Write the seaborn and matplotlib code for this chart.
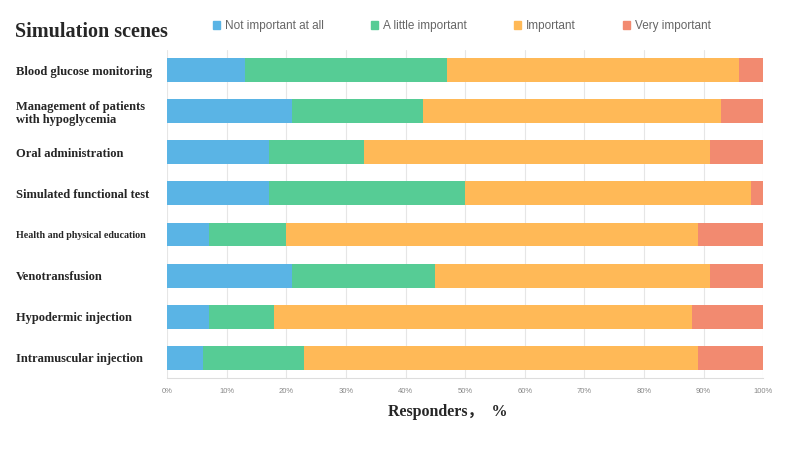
import numpy as np
import pandas as pd
import matplotlib
matplotlib.use("Agg")
import matplotlib.pyplot as plt
import matplotlib.patches as mpatches
import seaborn as sns

# Data (percent of responders)
scenes = ["Blood glucose monitoring",
          "Management of patients\nwith hypoglycemia",
          "Oral administration",
          "Simulated functional test",
          "Health and physical education",
          "Venotransfusion",
          "Hypodermic injection",
          "Intramuscular injection"]
levels = ["Not important at all", "A little important", "Important", "Very important"]
not_important = [13, 21, 17, 17, 7, 21, 7, 6]
little_important = [34, 22, 16, 33, 13, 24, 11, 17]
important = [49, 50, 58, 48, 69, 46, 70, 66]
very_important = [4, 7, 9, 2, 11, 9, 12, 11]
colors = ["#5ab4e5", "#56cc95", "#ffb957", "#f28a70"]

df = pd.DataFrame({"scene": scenes,
                   levels[0]: not_important,
                   levels[1]: little_important,
                   levels[2]: important,
                   levels[3]: very_important}).set_index("scene")
cum = df.cumsum(axis=1)

sns.set_style("white")
fig = plt.figure(figsize=(8, 4.5), dpi=100)
ax = fig.add_axes([0.209, 0.159, 0.745, 0.731])

# stacked bars: draw the longest cumulative first
for lev, col in reversed(list(zip(levels, colors))):
    sns.barplot(x=cum[lev].values, y=cum.index, orient="h", color=col,
                saturation=1, width=0.58, ax=ax, zorder=3, linewidth=0)

ax.set_xlim(0, 100)
ax.set_xticks(np.arange(0, 101, 10))
ax.set_xticklabels([f"{v}%" for v in range(0, 101, 10)],
                   fontsize=5.5, color="#888888", family="Liberation Sans")
ax.grid(axis="x", color="#e6e6e6", linewidth=0.8, zorder=0)
ax.set_axisbelow(True)
for s in ["top", "right", "left"]:
    ax.spines[s].set_visible(False)
ax.spines["bottom"].set_color("#dddddd")
ax.tick_params(axis="x", length=4, color="#dddddd", pad=3)

# y labels left aligned at the figure edge
ax.set_ylabel("")
ax.tick_params(axis="y", length=0, pad=109)
for lab in ax.get_yticklabels():
    lab.set_horizontalalignment("left")
    lab.set_family("Liberation Serif")
    lab.set_fontweight("bold")
    lab.set_fontsize(7.2 if lab.get_text().startswith("Health") else 9)

ax.set_xlabel("Responders，  %", fontsize=11.5, fontweight="bold",
              family=["Liberation Serif", "Noto Sans CJK SC"], va="center")
ax.xaxis.set_label_coords(0.47, -0.102)

fig.text(0.019, 0.929, "Simulation scenes", fontsize=14.5, fontweight="bold",
         family="Liberation Serif", va="center")

handles = [mpatches.Patch(color=c, label=l) for l, c in zip(levels, colors)]
fig.legend(handles=handles, ncol=4, loc="center", bbox_to_anchor=(0.5775, 0.942),
           frameon=False, handlelength=0.6, handleheight=0.6,
           handletextpad=0.42, columnspacing=4.0,
           labelcolor="#666666", prop={"family": "Liberation Sans", "size": 8.5})

fig.savefig("out.png", dpi=100)
